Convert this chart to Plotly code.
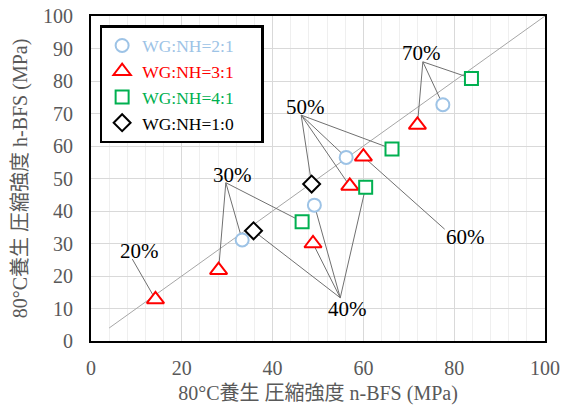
import plotly.graph_objects as go

# Compressive strength of 80°C-cured specimens: n-BFS (x) vs h-BFS (y), MPa
circle_x = [33.3, 49.2, 56.2, 77.5]
circle_y = [31.1, 41.8, 56.5, 72.7]
circle_pct = ["30%", "40%", "50%", "70%"]

triangle_x = [14.2, 28.1, 48.9, 57.0, 60.0, 71.9]
triangle_y = [12.8, 21.8, 30.0, 47.7, 56.7, 66.5]
triangle_pct = ["20%", "30%", "40%", "50%", "60%", "70%"]

square_x = [46.5, 60.5, 66.3, 83.8]
square_y = [36.7, 47.3, 59.1, 80.8]
square_pct = ["30%", "40%", "50%", "70%"]

diamond_x = [35.8, 48.6]
diamond_y = [33.9, 48.3]
diamond_pct = ["40%", "50%"]

pct_labels = ["20%", "30%", "40%", "50%", "60%", "70%"]

# where each percentage label sits, and the point its leader lines start from
label_text_pos = {
    "20%": (10.6, 27.7), "30%": (31.1, 51.1), "40%": (56.4, 9.8),
    "50%": (47.2, 72.0), "60%": (82.5, 31.9), "70%": (72.9, 88.7),
}
label_apex = {
    "20%": (9.1, 25.2), "30%": (29.7, 48.7), "40%": (54.9, 13.3),
    "50%": (46.3, 69.5), "60%": (77.9, 34.4), "70%": (73.1, 85.9),
}

series = [
    ("WG:NH=2:1", circle_x, circle_y, circle_pct, "circle", "#9DC3E6", 13),
    ("WG:NH=3:1", triangle_x, triangle_y, triangle_pct, "triangle-up", "#FF0000", 15),
    ("WG:NH=4:1", square_x, square_y, square_pct, "square", "#00B050", 13),
    ("WG:NH=1:0", diamond_x, diamond_y, diamond_pct, "diamond", "#000000", 13),
]

SERIF = "Liberation Serif, Noto Sans CJK JP"
fig = go.Figure()

# 1:1 reference line
fig.add_trace(go.Scatter(x=[4, 100], y=[4, 100], mode="lines",
                         line=dict(color="#A6A6A6", width=1),
                         showlegend=False, hoverinfo="skip"))

# leader lines from each label to its points
lx, ly = [], []
for _, xs, ys, pcts, _, _, _ in series:
    for x, y, p in zip(xs, ys, pcts):
        ax, ay = label_apex[p]
        lx += [ax, x, None]
        ly += [ay, y, None]
fig.add_trace(go.Scatter(x=lx, y=ly, mode="lines",
                         line=dict(color="#707070", width=1),
                         showlegend=False, hoverinfo="skip"))

for name, xs, ys, pcts, sym, col, size in series:
    fig.add_trace(go.Scatter(
        x=xs, y=ys, mode="markers",
        name=f'<span style="color:{col}">{name}</span>' + "&nbsp;" * 5,
        marker=dict(symbol=sym, size=size, color="white",
                    line=dict(color=col, width=2)),
    ))

for p in pct_labels:
    tx, ty = label_text_pos[p]
    fig.add_annotation(x=tx, y=ty, text=p, showarrow=False,
                       font=dict(family=SERIF, size=21, color="#000000"))

axis_common = dict(
    range=[0, 100], showline=True, linecolor="#000000", linewidth=2,
    mirror=True, ticks="", zeroline=False, automargin=False,
    tickfont=dict(family=SERIF, size=20, color="#595959"),
    gridcolor="#D9D9D9", gridwidth=1,
)
fig.update_xaxes(**axis_common, dtick=20, ticklabelstandoff=8,
                 minor=dict(dtick=4, showgrid=True, gridcolor="#EFEFEF"),
                 title=dict(text="80°C養生 圧縮強度 n-BFS (MPa)", standoff=14,
                            font=dict(family=SERIF, size=20, color="#595959")))
fig.update_yaxes(**axis_common, dtick=10, ticklabelstandoff=12,
                 title=dict(text="80°C養生 圧縮強度 h-BFS (MPa)", standoff=10,
                            font=dict(family=SERIF, size=20, color="#595959")))

fig.update_layout(
    width=571, height=405,
    margin=dict(l=91, r=26, t=16, b=64),
    paper_bgcolor="white", plot_bgcolor="white",
    legend=dict(x=0.019, y=0.972, xanchor="left", yanchor="top",
                bgcolor="white", bordercolor="#000000", borderwidth=2.5,
                font=dict(family=SERIF, size=17.5), tracegroupgap=0),
)

fig.write_html("out.html")
